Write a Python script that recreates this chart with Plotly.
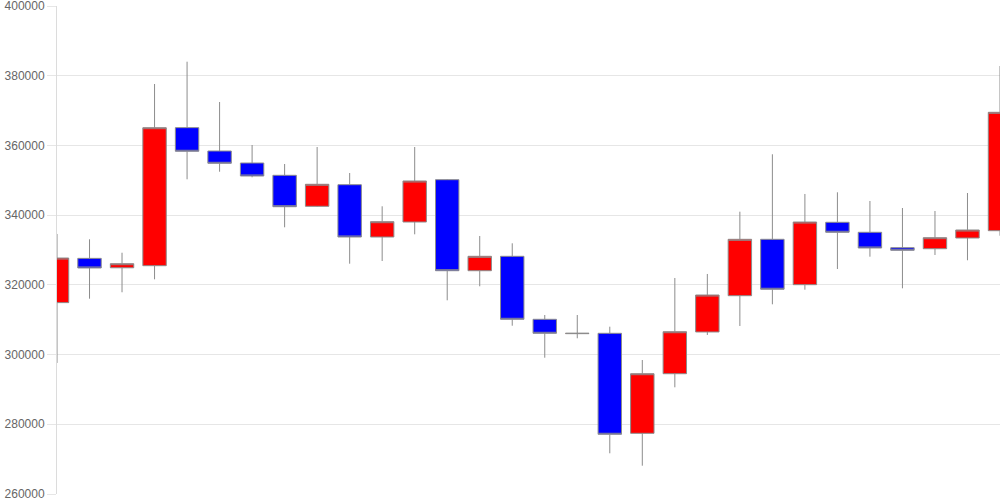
import plotly.graph_objects as go

x_idx = list(range(30))
open_ = [314900, 327600, 324900, 325500, 365100, 358400, 354960, 351430, 342540, 348730,
         333730, 338030, 350170, 324060, 328190, 310120, 306000, 306100, 277410, 294510,
         306480, 316890, 333070, 320050, 337950, 335080, 330660, 330370, 333440, 335540]
high = [334600, 333070, 329220, 377620, 384020, 372460, 360120, 354670, 359550, 352090,
        342540, 359550, 350300, 334020, 331920, 311350, 311350, 308000, 298440, 321970,
        323120, 340990, 357460, 346070, 346550, 344060, 342050, 341190, 346350, 382790]
low = [297600, 316030, 317870, 321590, 350280, 352460, 350860, 336510, 342400, 326070,
       326840, 334500, 315570, 319590, 308280, 299100, 304670, 271680, 268120, 290610,
       305620, 308200, 314420, 318610, 324550, 328080, 319010, 328570, 327050, 334100]
close = [327700, 324840, 326070, 365090, 358320, 354870, 351230, 342420, 348850, 333730,
         338120, 349800, 324060, 328190, 310120, 306100, 306100, 277130, 294510, 306560,
         317090, 333070, 318730, 338030, 335080, 330570, 329910, 333530, 335740, 369500]

y_ticks = [260000, 280000, 300000, 320000, 340000, 360000, 380000, 400000]

fig = go.Figure(go.Candlestick(
    x=x_idx, open=open_, high=high, low=low, close=close,
    increasing=dict(fillcolor="#ff0000", line=dict(color="rgb(140,140,140)", width=1)),
    decreasing=dict(fillcolor="#0000ff", line=dict(color="rgb(140,140,140)", width=1)),
    whiskerwidth=0,
    showlegend=False,
))

fig.update_layout(
    width=1000, height=500,
    margin=dict(l=57, r=0, t=6, b=6, autoexpand=False),
    paper_bgcolor="white", plot_bgcolor="white",
    font=dict(family="Liberation Sans, Arial, sans-serif", size=12, color="#666666"),
    boxgap=0.28, boxgroupgap=0,
    xaxis=dict(
        range=[0, 29], showticklabels=False, showgrid=False, zeroline=False,
        rangeslider=dict(visible=False), showline=False, ticks="", automargin=False,
    ),
    yaxis=dict(
        range=[260000, 400000], tickvals=y_ticks, ticktext=[str(v) for v in y_ticks],
        showgrid=True, gridcolor="#e6e6e6", gridwidth=1, zeroline=False,
        showline=True, linecolor="#dcdcdc", linewidth=1,
        ticks="outside", ticklen=9, tickcolor="#e6e6e6", tickwidth=1,
        tickfont=dict(size=12, color="#666666"),
        automargin=False, ticklabeloverflow="allow",
    ),
)

fig.write_html("out.html", config={"displayModeBar": False},
               post_script="document.body.style.margin='0';")
